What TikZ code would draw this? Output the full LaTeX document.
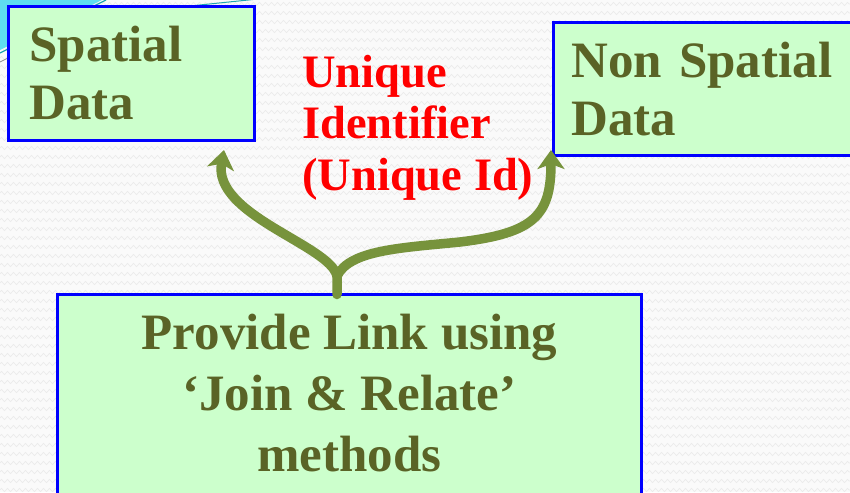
\documentclass[tikz,border=0pt]{standalone}
\usepackage{fontspec}
\setmainfont{Liberation Serif}
\usetikzlibrary{arrows.meta,decorations.pathmorphing,calc}
\definecolor{pagebg}{HTML}{FAFAFA}
\definecolor{boxfill}{HTML}{CCFFCC}
\definecolor{boxline}{HTML}{0000FF}
\definecolor{olivetext}{HTML}{5A6326}
\definecolor{arrowgreen}{HTML}{77933C}
\definecolor{idred}{HTML}{FF0000}
\definecolor{swoosh}{HTML}{5EDDF0}
\definecolor{swooshline}{HTML}{1FA5B0}
\begin{document}
\begin{tikzpicture}[x=1pt,y=-1pt,
  databox/.style={draw=boxline, line width=3pt, fill=boxfill, rectangle,
    anchor=north west, outer sep=0pt, inner ysep=0pt},
  boxfont/.style={font=\fontsize{51}{58}\selectfont\bfseries, text=olivetext},
  idfont/.style={font=\fontsize{46.5}{51.5}\selectfont\bfseries, text=idred},
  connector/.style={draw=arrowgreen, line width=9.5pt, line cap=round,
    -{Stealth[length=19pt,width=27pt,inset=5pt]}},
  bgzig/.style={draw=black!8, line width=0.7pt, decorate,
    decoration={zigzag, segment length=6pt, amplitude=1.6pt}}]

% page and faint zigzag texture
\useasboundingbox (0,0) rectangle (850,492);
\clip (0,0) rectangle (850,492);
\fill[pagebg] (0,0) rectangle (850,492);
\foreach \r in {0,...,54}
  \draw[bgzig] (0,\r*9+4) -- (850,\r*9+4);

% swoosh in the upper left corner
\fill[swoosh] (0,0) -- (102,0) -- (0,50) -- cycle;
\draw[swooshline, line width=1.2pt] (0,53) -- (106,0);
\draw[black!45, line width=0.8pt] (0,62) -- (12,56);
\draw[swooshline, line width=1pt] (190,6) -- (258,-1);

% data boxes
\node[databox, boxfont, minimum width=246pt, minimum height=134pt,
  text width=204pt, inner xsep=21pt, align=left] (spatial) at (8.5,6.5)
  {Spatial\\Data};
\node[databox, boxfont, minimum width=310pt, minimum height=133pt,
  text width=274pt, inner xsep=18pt, align=left] (nonspatial) at (553.5,22.5)
  {Non Spatial\\Data};

% link box
\node[databox, minimum width=584pt, minimum height=230pt] (joinbox) at (57.5,294.5) {};
\node[boxfont, font=\fontsize{51}{61}\selectfont\bfseries, anchor=north,
  align=center, inner sep=0pt] (jointext) at (349.5,313.5)
  {Provide Link using\\‘Join \& Relate’\\methods};

% identifier label
\node[idfont, anchor=north west, align=left, inner sep=0pt] (uid) at (302,55)
  {Unique\\Identifier\\(Unique Id)};

% forked connector
\coordinate (fork) at (337,276);
\coordinate (ltip) at (224,150);
\coordinate (rtip) at (551,150);
\draw[connector] (joinbox.north -| fork) -- (fork)
  .. controls (330,245) and (212,215) .. (ltip);
\draw[connector] (fork)
  .. controls (350,250) and (400,248) .. (460,242)
  .. controls (535,233) and (551,215) .. (rtip);
\end{tikzpicture}
\end{document}
